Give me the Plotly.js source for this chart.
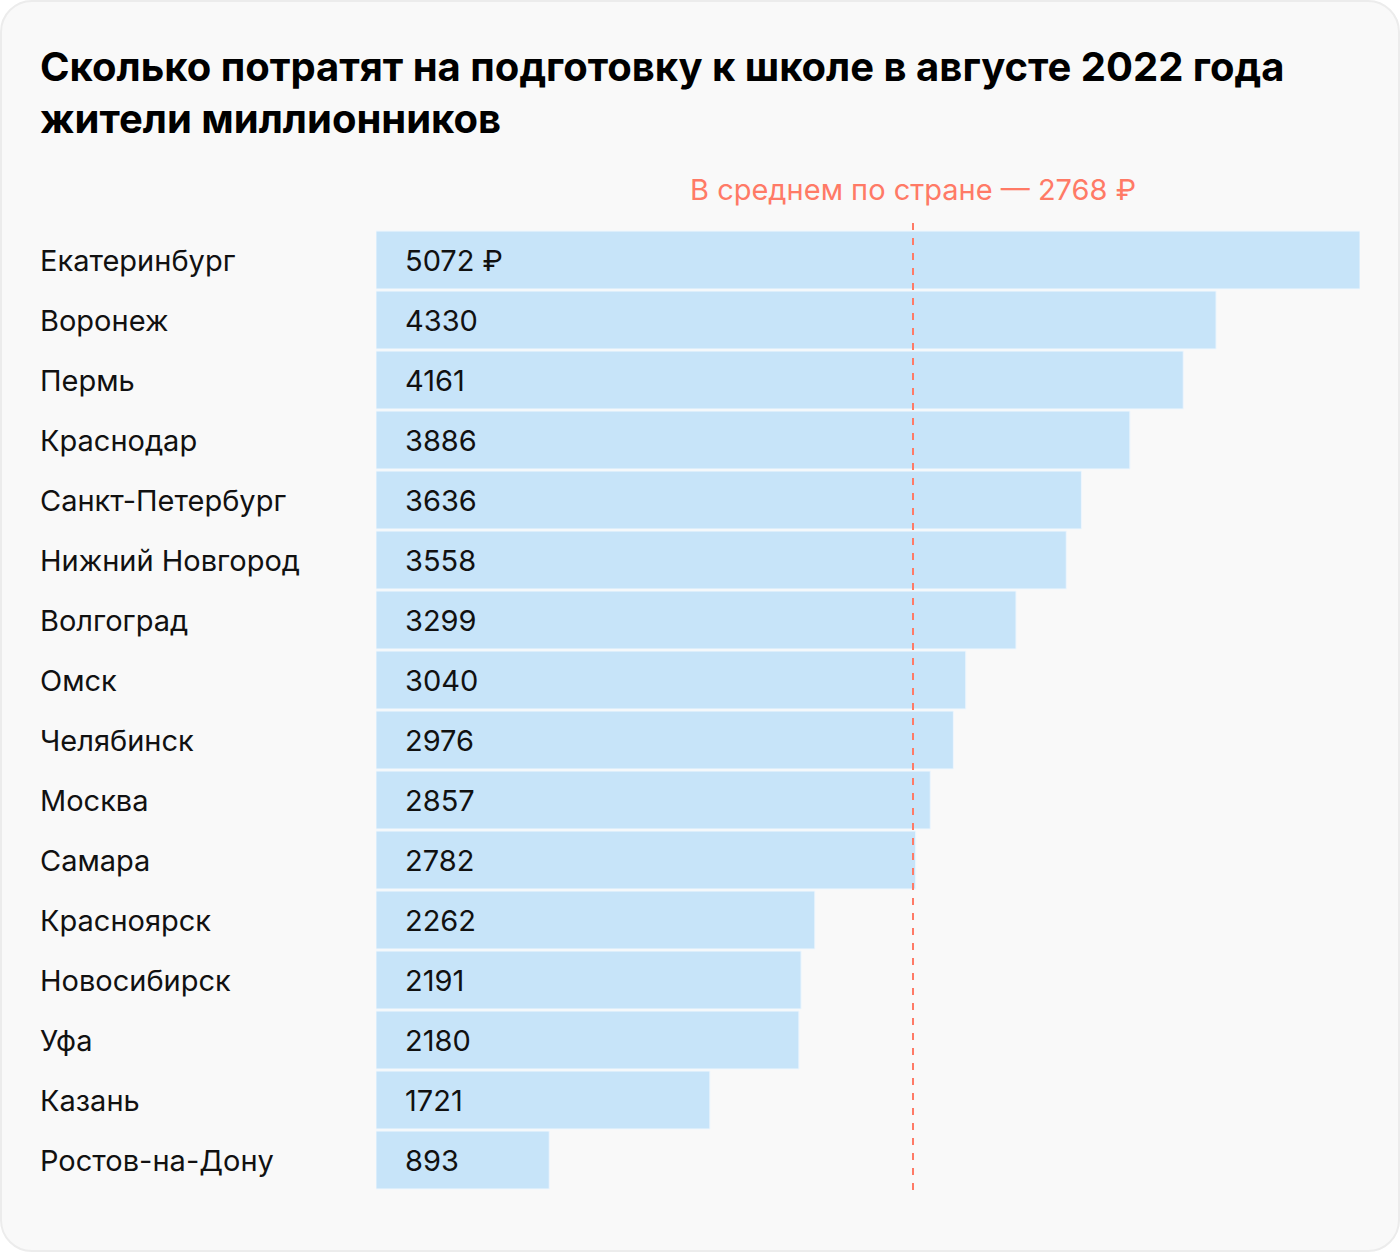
<!DOCTYPE html>
<html>
<head>
<meta charset="utf-8">
<script src="https://cdn.plot.ly/plotly-3.0.1.min.js"></script>
<style>
html,body{margin:0;padding:0;background:#ffffff;}
#card{position:absolute;left:0;top:0;width:1396px;height:1248px;background:#f9f9f9;border:2px solid #ececec;border-radius:32px;overflow:hidden;}
#chart{position:absolute;left:-2px;top:-2px;width:1400px;height:1252px;}
</style>
</head>
<body>
<div id="card"><div id="chart"></div></div>
<script>
const cities = ["Екатеринбург","Воронеж","Пермь","Краснодар","Санкт-Петербург","Нижний Новгород","Волгоград","Омск","Челябинск","Москва","Самара","Красноярск","Новосибирск","Уфа","Казань","Ростов-на-Дону"];
const values = [5072,4330,4161,3886,3636,3558,3299,3040,2976,2857,2782,2262,2191,2180,1721,893];
const valueLabels = ["5072 ₽","4330","4161","3886","3636","3558","3299","3040","2976","2857","2782","2262","2191","2180","1721","893"];
const average = 2768;
const averageLabel = "В среднем по стране — 2768 ₽";
const titleText = "Сколько потратят на подготовку к школе в августе 2022 года<br>жители миллионников";

const FONT = "Inter, Roboto, 'Noto Sans', sans-serif";
const L = 376, R = 40, T = 230, B = 62, W = 1400, H = 1252;
const plotW = W - L - R;
const plotH = H - T - B;

const annotations = [];
cities.forEach((c, i) => {
  annotations.push({
    xref: 'paper', yref: 'y', x: (38 - L) / plotW, y: c,
    text: c, showarrow: false, xanchor: 'left', yanchor: 'middle',
    font: {family: FONT, size: 29, color: '#111111'}
  });
  annotations.push({
    xref: 'x', yref: 'y', x: 0, y: c, xshift: 27,
    text: valueLabels[i], showarrow: false, xanchor: 'left', yanchor: 'middle',
    font: {family: FONT, size: 29, color: '#111111'}
  });
});
annotations.push({
  xref: 'x', yref: 'paper', x: average, y: 1 + 40 / plotH,
  text: averageLabel, showarrow: false, xanchor: 'center', yanchor: 'middle',
  font: {family: FONT, size: 29, color: '#ff7a66'}
});

const trace = {
  type: 'bar', orientation: 'h',
  x: values, y: cities,
  marker: {color: '#c7e4f9', line: {color: '#eef6fd', width: 1}},
  hoverinfo: 'none'
};

const layout = {
  width: W, height: H,
  margin: {l: L, r: R, t: T, b: B, pad: 0},
  paper_bgcolor: 'rgba(0,0,0,0)',
  plot_bgcolor: 'rgba(0,0,0,0)',
  bargap: 0.035,
  showlegend: false,
  title: {
    text: titleText, xref: 'container', yref: 'container',
    x: 40 / W, xanchor: 'left', y: 1 - 81 / H, yanchor: 'top',
    font: {family: FONT, size: 40, color: '#000000', weight: 700}
  },
  xaxis: {range: [0, 5072], showgrid: false, zeroline: false, showticklabels: false, showline: false, fixedrange: true},
  yaxis: {categoryorder: 'array', categoryarray: cities.slice().reverse(), autorange: false, range: [-0.5, cities.length - 0.5], showgrid: false, zeroline: false, showticklabels: false, showline: false, fixedrange: true},
  shapes: [{
    type: 'line', xref: 'x', yref: 'paper', x0: average, x1: average, y0: 0, y1: 1 + 15 / plotH,
    line: {color: '#ff7a66', width: 2, dash: '7px,8px'}, layer: 'above'
  }],
  annotations: annotations
};

Plotly.newPlot('chart', [trace], layout, {displayModeBar: false, staticPlot: true});
</script>
</body>
</html>
